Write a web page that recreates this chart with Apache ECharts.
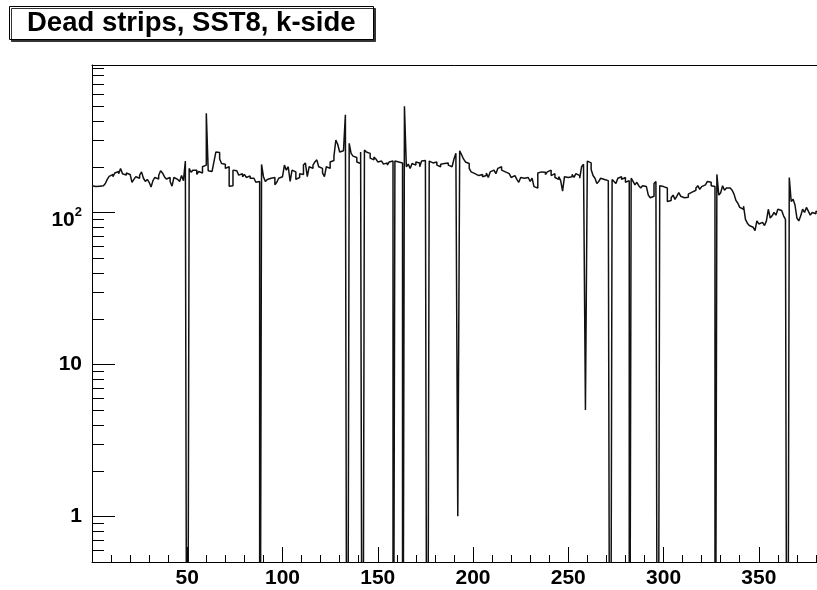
<!DOCTYPE html>
<html>
<head>
<meta charset="utf-8">
<script src="https://cdn.jsdelivr.net/npm/echarts@6/dist/echarts.min.js"></script>
<style>
  html, body { margin: 0; padding: 0; background: #fff; }
  #chart { width: 817px; height: 590px; }
</style>
</head>
<body>
<div id="chart"></div>
<script>
// entries per strip (bin i covers [i, i+1]); 0 = dead strip
const counts = [
  150, 148, 152, 149, 147, 150, 148, 155, 165, 173,
  178, 172, 182, 186, 180, 195, 180, 176, 182, 178,
  175, 158, 165, 172, 168, 176, 185, 168, 160, 165,
  158, 147, 162, 170, 166, 175, 188, 182, 172, 166,
  170, 160, 149, 170, 165, 168, 160, 175, 162, 218,
  0, 195, 184, 190, 190, 178, 186, 182, 200, 205,
  450, 188, 186, 190, 215, 250, 248, 225, 210, 208,
  195, 200, 149, 150, 190, 188, 183, 176, 180, 172,
  178, 170, 174, 168, 168, 165, 158, 160, 0, 207,
  172, 160, 165, 168, 165, 170, 152, 158, 168, 172,
  175, 205, 190, 200, 160, 190, 185, 165, 170, 180,
  178, 205, 212, 172, 200, 195, 205, 215, 222, 200,
  195, 182, 172, 200, 195, 215, 220, 235, 300, 280,
  250, 255, 262, 440, 0, 285, 245, 235, 230, 215,
  210, 250, 0, 258, 250, 245, 228, 222, 232, 225,
  215, 218, 215, 208, 212, 205, 215, 218, 0, 218,
  215, 210, 212, 0, 500, 200, 208, 195, 210, 205,
  215, 212, 200, 218, 220, 218, 0, 218, 212, 210,
  215, 205, 200, 208, 210, 215, 212, 205, 200, 198,
  225, 245, 1, 255, 240, 225, 215, 210, 195, 185,
  180, 180, 175, 170, 178, 172, 175, 182, 170, 185,
  190, 186, 180, 195, 200, 190, 185, 190, 180, 178,
  170, 175, 172, 165, 158, 170, 168, 172, 170, 165,
  160, 168, 148, 145, 182, 185, 180, 184, 178, 185,
  190, 175, 180, 170, 165, 172, 162, 138, 172, 170,
  175, 172, 178, 170, 180, 175, 168, 200, 208, 5,
  218, 212, 192, 175, 168, 155, 160, 168, 165, 166,
  162, 160, 0, 165, 160, 155, 168, 172, 165, 170,
  158, 162, 0, 168, 160, 152, 158, 150, 145, 150,
  148, 145, 130, 125, 128, 155, 160, 0, 150, 148,
  152, 145, 118, 120, 125, 130, 122, 128, 135, 128,
  125, 122, 126, 132, 136, 134, 140, 145, 150, 142,
  148, 152, 155, 160, 158, 150, 148, 0, 178, 130,
  135, 150, 140, 145, 145, 142, 140, 132, 120, 115,
  108, 105, 110, 90, 85, 82, 80, 78, 76, 88,
  84, 86, 85, 82, 88, 105, 92, 95, 100, 96,
  105, 103, 100, 95, 90, 0, 170, 118, 122, 112,
  92, 88, 95, 105, 100, 108, 102, 96, 100, 98,
  102, 100, 98, 104, 100, 97, 102, 99, 101, 100
];
const yMajorLabels = { 1: "1", 10: "10", 100: "{b|10}{sup|2}" };
const yMinorTicks = [0.6, 0.7, 0.8, 0.9, 2, 3, 4, 5, 6, 7, 8, 9,
  20, 30, 40, 50, 60, 70, 80, 90, 200, 300, 400, 500, 600, 700, 800, 900];

const X_MAX = counts.length;
const Y_MIN = 0.5;
const Y_MAX = 935;
const FONT = "Liberation Sans, Arial, Helvetica, sans-serif";

// histogram steps; empty bins are pushed far below the log axis
const histData = counts.map((v, i) => [i, v > 0 ? v : 0.001]);
histData.push([X_MAX, histData[histData.length - 1][1]]);

const chart = echarts.init(document.getElementById("chart"));

const options = {
  animation: false,
  backgroundColor: "#fff",
  title: {
    text: "Dead strips, SST8, k-side",
    left: 9,
    top: 6,
    padding: [3, 18, 3, 18],
    backgroundColor: "#fff",
    borderColor: "#000",
    borderWidth: 1,
    shadowColor: "#333",
    shadowOffsetX: 2,
    shadowOffsetY: 2,
    shadowBlur: 0,
    textStyle: {
      fontFamily: FONT,
      fontWeight: "bold",
      fontSize: 27.5,
      color: "#000",
    },
  },
  grid: {
    left: 92,
    top: 65,
    width: 743,
    height: 497,
    outerBoundsMode: "none", // plot runs past the right edge of the picture
  },
  xAxis: [
    {
      type: "value",
      min: 0,
      max: X_MAX,
      interval: 50,
      axisLine: { show: true, lineStyle: { color: "#000", width: 1 } },
      axisTick: { show: true, inside: true, length: 15, lineStyle: { color: "#000" } },
      minorTick: { show: true, splitNumber: 5, length: 7, lineStyle: { color: "#000" } },
      splitLine: { show: false },
      axisLabel: {
        margin: 6,
        fontFamily: FONT,
        fontWeight: "bold",
        fontSize: 21,
        color: "#000",
        formatter: (v) => (v === 0 || v % 50 !== 0 ? "" : String(v)),
      },
    },
    {
      // top side of the frame
      type: "value",
      position: "top",
      min: 0,
      max: X_MAX,
      axisLine: { show: true, lineStyle: { color: "#000", width: 1 } },
      axisTick: { show: false },
      axisLabel: { show: false },
      splitLine: { show: false },
    },
  ],
  yAxis: {
    type: "log",
    logBase: 10,
    min: Y_MIN,
    max: Y_MAX,
    axisLine: { show: true, lineStyle: { color: "#000", width: 1 } },
    axisTick: { show: true, inside: true, length: 23, lineStyle: { color: "#000" } },
    splitLine: { show: false },
    axisLabel: {
      margin: 10,
      fontFamily: FONT,
      fontWeight: "bold",
      fontSize: 21,
      color: "#000",
      showMinLabel: false,
      showMaxLabel: false,
      formatter: (v) => yMajorLabels[Math.round(v * 1000) / 1000] || "",
      rich: {
        b: {
          fontFamily: FONT, fontWeight: "bold", fontSize: 21, color: "#000",
          padding: [16, 0, 0, 0], verticalAlign: "bottom",
        },
        sup: {
          fontFamily: FONT, fontWeight: "bold", fontSize: 13, color: "#000",
          padding: [0, 0, 12, 0], verticalAlign: "bottom",
        },
      },
    },
  },
  series: [
    {
      type: "line",
      step: "end",
      data: histData,
      showSymbol: false,
      symbol: "none",
      clip: true,
      lineStyle: { color: "#111", width: 1.5 },
      silent: true,
    },
    {
      // minor ticks of the log axis (2..9 of every decade)
      type: "custom",
      clip: false,
      silent: true,
      data: yMinorTicks.map((v) => [0, v]),
      renderItem: (params, api) => {
        const p = api.coord([api.value(0), api.value(1)]);
        const y = Math.round(p[1]) + 0.5;
        return {
          type: "line",
          shape: { x1: p[0], y1: y, x2: p[0] + 12, y2: y },
          style: { stroke: "#000", lineWidth: 1 },
        };
      },
    },
  ],
};

chart.setOption(options);

window.addEventListener("resize", () => {
  chart.resize();
});
</script>
</body>
</html>
